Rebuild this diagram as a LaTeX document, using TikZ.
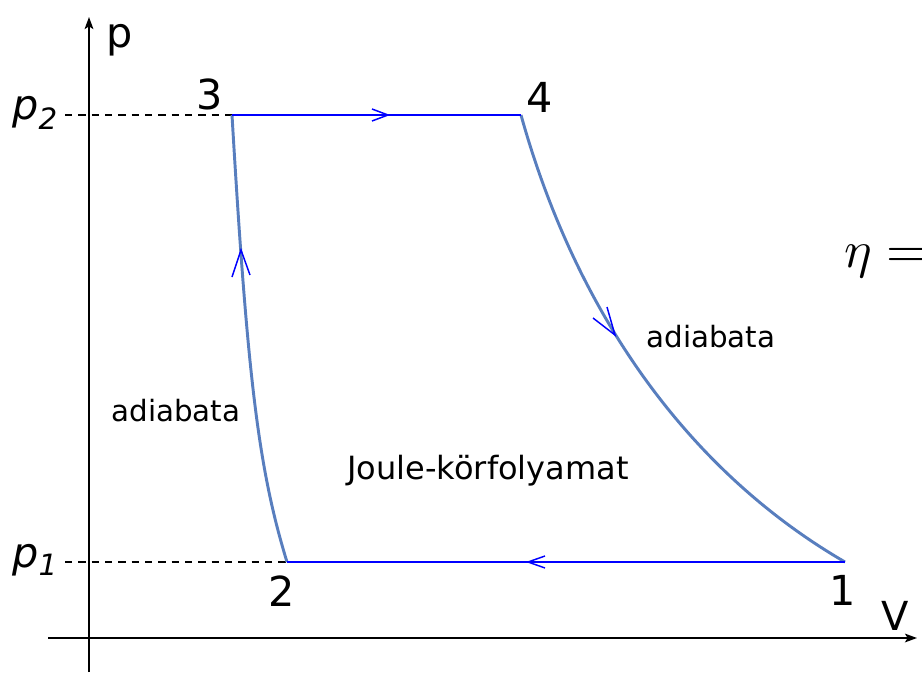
\documentclass[tikz,border=0pt]{standalone}
\usepackage{graphicx}
\usepackage{fontspec}
\setmainfont{DejaVu Sans}
\usetikzlibrary{arrows.meta}
\definecolor{curvec}{RGB}{88,126,190}
\begin{document}
\begin{tikzpicture}[x=0.75pt,y=-0.75pt,
  axis/.style={line width=1.5pt, black},
  guide/.style={line width=0.9pt, black, dash pattern=on 5.5pt off 4.5pt},
  iso/.style={line width=1.6pt, blue},
  adia/.style={line width=2.2pt, curvec},
  tipline/.style={line width=1.1pt, blue, line join=miter},
  big/.style={inner sep=0pt, anchor=base, font=\fontsize{31}{31}\selectfont},
  small/.style={inner sep=0pt, font=\fontsize{22}{22}\selectfont},
  plbl/.style={inner sep=0pt, anchor=base west}]
\useasboundingbox (0,0) rectangle (922,674);
\begin{scope}
\clip (0,0) rectangle (922,674);
% named points
\coordinate (P1) at (845,562);
\coordinate (P2) at (287,562);
\coordinate (P3) at (232,115);
\coordinate (P4) at (521,115);
\coordinate (yb) at (89,672);
\coordinate (yt) at (89,17);
\coordinate (xl) at (48,638);
\coordinate (xr) at (917,638);
\coordinate (g2) at (65,115);
\coordinate (g1) at (65,562);
% axes
\draw[axis, -{Stealth[length=9pt, width=6.5pt, inset=2pt]}] (yb) -- (yt);
\draw[axis, -{Stealth[length=9pt, width=6.5pt, inset=2pt]}] (xl) -- (xr);
% guides
\draw[guide] (g2) -- (P3);
\draw[guide] (g1) -- (P2);
% adiabats
\draw[adia] (P4) .. controls (576.9,315.9) and (690.3,472.3) .. (P1);
\draw[adia] (P2) .. controls (258.6,469.2) and (247.6,379.8) .. (P3);
% isobars
\draw[iso] (P3) -- (P4);
\draw[iso] (P1) -- (P2);
% direction marks
\draw[tipline] (372,109) -- (388,115) -- (372,121);
\draw[tipline] (545,556) -- (528,562) -- (545,568);
\draw[tipline] (232,277) -- (241,250) -- (250,275);
\draw[tipline] (593,318) -- (615,335) -- (607,307);
% labels
\node[big] (l3) at (210,109) {3};
\node[big] (l4) at (540,113) {4};
\node[big] (l2) at (282,606) {2};
\node[big] (l1) at (843,605) {1};
\node[big, font=\fontsize{30}{30}\selectfont] (lV) at (895,630) {V};
\node[big] (lp) at (120,48) {p};
\node[plbl] (lp2) at (12,120) {\fontsize{31}{31}\selectfont\itshape p\raisebox{-7pt}{\fontsize{22}{22}\selectfont 2}};
\node[plbl] (lp1) at (12,567) {\fontsize{31}{31}\selectfont\itshape p\raisebox{-6pt}{\fontsize{22}{22}\selectfont 1}};
\node[small] (ad1) at (176,411) {adiabata};
\node[small] (ad2) at (711,337) {adiabata};
\node[inner sep=0pt, font=\fontsize{24}{24}\selectfont] (jk) at (488,471) {Joule-körfolyamat};
\node[plbl] (eta) at (844,267) {\scalebox{3.9}{$\eta =$}};
\end{scope}
\end{tikzpicture}
\end{document}
